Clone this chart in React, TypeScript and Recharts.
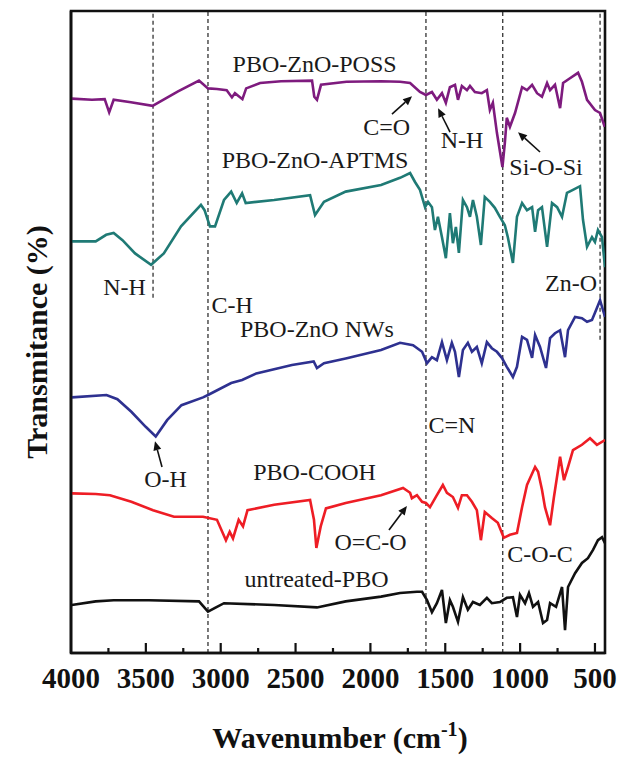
import { LineChart, Line, XAxis, YAxis, ReferenceLine, ReferenceDot, ReferenceArea } from 'recharts';

type Pt = [number, number];

// [wavenumber, transmittance offset (a.u.)]
const poss: Pt[] = [
  [3995, 92.4], [3860, 92.2], [3775, 92.3], [3745, 90.1], [3715, 92.2], [3600, 91.8], [3455, 91.2],
  [3285, 93.6], [3145, 95.4], [3085, 94.1], [3025, 94.0], [2960, 93.8], [2925, 92.6], [2905, 93.3],
  [2855, 92.3], [2830, 94.1], [2737, 95.0], [2597, 95.3], [2390, 95.4], [2375, 92.7], [2357, 92.2],
  [2330, 94.7], [2160, 95.2], [1929, 95.3], [1802, 95.2], [1735, 95.0], [1669, 93.5], [1629, 93.0],
  [1589, 93.5], [1556, 92.2], [1522, 93.3], [1496, 91.7], [1469, 94.3], [1435, 94.7], [1415, 92.2],
  [1389, 94.5], [1355, 93.8], [1335, 94.5], [1302, 93.5], [1256, 93.3], [1222, 93.8], [1202, 90.5],
  [1182, 91.7], [1155, 86.7], [1118, 81.0], [1102, 85.0], [1089, 89.2], [1068, 87.7], [1034, 90.0],
  [987, 94.3], [954, 93.8], [920, 94.7], [887, 93.3], [854, 92.7], [820, 95.0], [800, 93.8],
  [767, 94.7], [733, 90.8], [713, 95.0], [667, 95.8], [613, 96.7], [587, 95.2], [553, 92.2],
  [500, 90.5], [466, 90.0], [435, 87.7],
];

const aptms: Pt[] = [
  [3995, 68.6], [3835, 68.6], [3765, 69.7], [3715, 70.0], [3656, 68.8], [3572, 66.6], [3465, 64.7],
  [3380, 66.6], [3265, 71.1], [3132, 74.7], [3108, 73.8], [3072, 71.1], [3038, 71.1], [2978, 75.5],
  [2930, 76.9], [2893, 75.0], [2857, 76.6], [2833, 75.0], [2643, 75.5], [2403, 76.3], [2370, 73.0],
  [2310, 75.2], [2165, 76.9], [1929, 78.0], [1802, 79.2], [1735, 80.0], [1702, 78.5], [1669, 77.2],
  [1635, 74.3], [1615, 75.2], [1589, 74.3], [1569, 70.5], [1549, 72.7], [1522, 69.3], [1496, 65.8],
  [1469, 73.3], [1449, 68.3], [1429, 71.0], [1409, 66.7], [1382, 75.5], [1355, 74.3], [1335, 72.7],
  [1315, 75.5], [1289, 72.7], [1262, 68.0], [1236, 76.0], [1202, 75.2], [1169, 74.2], [1135, 72.7],
  [1102, 71.3], [1082, 69.3], [1048, 65.0], [1021, 72.7], [987, 75.0], [954, 73.8], [920, 74.3],
  [900, 70.2], [880, 73.8], [854, 74.3], [820, 67.7], [787, 75.0], [753, 74.3], [720, 72.7],
  [687, 76.7], [647, 77.2], [600, 77.8], [580, 72.2], [553, 67.7], [520, 69.3], [500, 68.5],
  [480, 70.5], [453, 69.3], [433, 64.3],
];

const nws: Pt[] = [
  [3995, 42.6], [3763, 43.0], [3690, 42.3], [3597, 40.2], [3501, 37.7], [3434, 36.1], [3358, 38.8],
  [3262, 41.3], [3118, 42.6], [3085, 43.0], [2930, 45.0], [2857, 45.5], [2762, 46.6], [2524, 48.0],
  [2379, 48.6], [2357, 47.5], [2310, 48.3], [2165, 49.1], [1929, 50.5], [1802, 51.7], [1715, 51.3],
  [1655, 50.2], [1622, 48.3], [1589, 49.3], [1556, 48.8], [1522, 51.8], [1489, 48.8], [1456, 51.7],
  [1435, 50.2], [1409, 46.0], [1382, 50.5], [1349, 51.7], [1322, 50.2], [1289, 51.0], [1256, 48.3],
  [1222, 51.8], [1189, 50.8], [1155, 50.2], [1122, 49.2], [1089, 47.7], [1048, 46.0], [1021, 47.7],
  [987, 52.7], [954, 52.2], [920, 49.2], [900, 53.0], [867, 51.0], [827, 47.5], [800, 52.5],
  [767, 53.3], [733, 53.8], [700, 49.3], [680, 53.8], [633, 56.0], [587, 55.8], [553, 55.2],
  [520, 55.5], [500, 56.7], [466, 58.8], [433, 56.0],
];

const cooh: Pt[] = [
  [3995, 26.6], [3835, 26.5], [3740, 26.3], [3597, 25.2], [3452, 23.8], [3312, 22.7], [3118, 22.7],
  [3025, 22.2], [2965, 18.8], [2940, 20.2], [2918, 19.1], [2880, 22.2], [2851, 21.1], [2821, 23.8],
  [2643, 24.7], [2403, 25.5], [2377, 22.2], [2361, 17.5], [2332, 21.1], [2297, 24.1], [2165, 25.0],
  [1929, 26.3], [1782, 27.5], [1735, 26.7], [1723, 25.8], [1689, 26.3], [1655, 25.2], [1629, 25.0],
  [1602, 24.3], [1556, 26.3], [1516, 28.0], [1489, 26.7], [1449, 26.0], [1415, 24.2], [1389, 26.3],
  [1355, 26.3], [1322, 25.2], [1289, 23.8], [1262, 18.8], [1236, 23.5], [1189, 22.5], [1149, 21.7],
  [1109, 19.2], [1068, 19.7], [1021, 20.0], [987, 24.3], [954, 28.0], [900, 31.0], [880, 30.2],
  [854, 27.2], [834, 24.3], [800, 21.3], [774, 26.0], [733, 32.7], [707, 28.8], [680, 31.0],
  [647, 33.8], [587, 34.7], [533, 35.8], [487, 34.7], [433, 35.5],
];

const untreated: Pt[] = [
  [3995, 8.0], [3835, 8.6], [3715, 8.8], [3479, 8.8], [3145, 8.6], [3085, 6.9], [3025, 7.7],
  [2978, 8.3], [2643, 8.0], [2357, 7.6], [2165, 8.6], [1929, 9.4], [1802, 10.0], [1689, 10.2],
  [1655, 10.2], [1622, 8.8], [1589, 6.8], [1556, 8.3], [1522, 10.5], [1496, 5.0], [1469, 8.8],
  [1449, 7.7], [1415, 5.2], [1382, 9.3], [1349, 7.2], [1315, 8.5], [1269, 8.0], [1222, 9.2],
  [1189, 8.3], [1135, 8.5], [1089, 9.2], [1048, 9.3], [1021, 6.0], [1001, 9.7], [967, 8.3],
  [941, 10.0], [914, 7.7], [880, 8.5], [847, 5.0], [820, 5.5], [800, 8.3], [760, 7.7],
  [720, 11.0], [700, 3.8], [680, 11.0], [633, 13.3], [587, 15.0], [547, 15.8], [513, 17.2],
  [480, 18.8], [453, 19.3], [433, 18.3],
];

const series = [
  { key: 'poss', color: '#7e1b7e', pts: poss },
  { key: 'aptms', color: '#1f7a75', pts: aptms },
  { key: 'nws', color: '#2e3190', pts: nws },
  { key: 'cooh', color: '#ee1d25', pts: cooh },
  { key: 'untreated', color: '#111111', pts: untreated },
];

const axisTicks = [4000, 3750, 3500, 3250, 3000, 2750, 2500, 2250, 2000, 1750, 1500, 1250, 1000, 750, 500];

// dashed guide lines: wavenumber and lower end
const guides: Pt[] = [[3452, 59.2], [3085, 0], [1629, 0], [1116, 0], [466, 52.2]];

const labels: { text: string; wn: number; t: number }[] = [
  { text: 'PBO-ZnO-POSS', wn: 2373, t: 96.8 },
  { text: 'C=O', wn: 1892, t: 86.3 },
  { text: 'N-H', wn: 1388, t: 84.2 },
  { text: 'Si-O-Si', wn: 827, t: 79.7 },
  { text: 'PBO-ZnO-APTMS', wn: 2370, t: 80.8 },
  { text: 'N-H', wn: 3642, t: 59.7 },
  { text: 'Zn-O', wn: 660, t: 60.3 },
  { text: 'C-H', wn: 2924, t: 56.7 },
  { text: 'PBO-ZnO NWs', wn: 2357, t: 52.7 },
  { text: 'C=N', wn: 1455, t: 36.7 },
  { text: 'O-H', wn: 3369, t: 27.7 },
  { text: 'PBO-COOH', wn: 2373, t: 28.8 },
  { text: 'O=C-O', wn: 1999, t: 17.2 },
  { text: 'C-O-C', wn: 867, t: 15.2 },
  { text: 'untreated-PBO', wn: 2360, t: 11.0 },
];

const arrows: [Pt, Pt][] = [
  [[1856, 89.8], [1722, 92.8]],
  [[1468, 86.8], [1548, 90.8]],
  [[867, 83.5], [1014, 86.8]],
  [[3392, 31.0], [3439, 35.3]],
  [[1876, 20.5], [1756, 24.5]],
];

const serif = 'Liberation Serif, Times New Roman, serif';

function Tick(props: any) {
  const { x, y, payload } = props;
  const v = payload.value;
  const major = v % 500 === 0;
  return (
    <g>
      {v < 4000 && <line x1={x} y1={y} x2={x} y2={y - (major ? 10 : 5)} stroke="#111" strokeWidth={2.2} />}
      {major && (
        <text x={x} y={y + 35} textAnchor="middle" fontFamily={serif} fontWeight="bold" fontSize={29} fill="#111">
          {v}
        </text>
      )}
    </g>
  );
}

function Arrow(props: any) {
  const { x1, y1, x2, y2 } = props;
  const a = Math.atan2(y2 - y1, x2 - x1);
  const bx = x2 - 9 * Math.cos(a);
  const by = y2 - 9 * Math.sin(a);
  const s = Math.sin(a), c = Math.cos(a);
  const pts = `${x2},${y2} ${bx - 4 * s},${by + 4 * c} ${bx + 4 * s},${by - 4 * c}`;
  return (
    <g>
      <line x1={x1} y1={y1} x2={bx} y2={by} stroke="#111" strokeWidth={1.6} />
      <polygon points={pts} fill="#111" />
    </g>
  );
}

export default function App() {
  return (
    <div style={{ position: 'absolute', left: 0, top: 0, background: '#fff' }}>
      <LineChart width={619} height={758} margin={{ top: 11, right: 14, bottom: 0, left: 0 }}>
        <XAxis
          dataKey="wn"
          type="number"
          domain={[433, 4000]}
          reversed
          allowDataOverflow
          ticks={axisTicks}
          interval={0}
          tick={<Tick />}
          tickLine={false}
          axisLine={{ stroke: '#111', strokeWidth: 2.6 }}
          tickSize={0}
          tickMargin={0}
          height={105}
          label={{
            content: ({ viewBox }: any) => (
              <text x={viewBox.x + viewBox.width / 2 + 2} y={viewBox.y + 95} textAnchor="middle"
                fontFamily={serif} fontWeight="bold" fontSize={30} fill="#111">
                Wavenumber (cm<tspan dy={-12} fontSize={20}>-1</tspan><tspan dy={12}>)</tspan>
              </text>
            ),
          }}
        />
        <YAxis
          type="number"
          domain={[0, 107]}
          allowDataOverflow
          width={71}
          tick={false}
          tickLine={false}
          axisLine={{ stroke: '#111', strokeWidth: 2.6 }}
          label={{
            content: ({ viewBox }: any) => {
              const cx = 47;
              const cy = viewBox.y + viewBox.height / 2 + 10;
              return (
                <text x={cx} y={cy} transform={`rotate(-90 ${cx} ${cy})`} textAnchor="middle"
                  fontFamily={serif} fontWeight="bold" fontSize={30} fill="#111">
                  Transmitance (%)
                </text>
              );
            },
          }}
        />
        {guides.map(([wn, lo]) => (
          <ReferenceLine key={wn} segment={[{ x: wn, y: lo }, { x: wn, y: 107 }]} stroke="#222" strokeWidth={1.2} strokeDasharray="4 3" />
        ))}
        {series.map((s) => (
          <Line
            key={s.key}
            data={s.pts.map(([wn, t]) => ({ wn, t }))}
            dataKey="t"
            type="linear"
            stroke={s.color}
            strokeWidth={2.6}
            dot={false}
            isAnimationActive={false}
          />
        ))}
        {arrows.map(([a, b], i) => (
          <ReferenceLine key={'ar' + i} segment={[{ x: a[0], y: a[1] }, { x: b[0], y: b[1] }]} shape={(p: any) => <Arrow {...p} />} />
        ))}
        {labels.map((l, i) => (
          <ReferenceDot
            key={'lb' + i}
            x={l.wn}
            y={l.t}
            r={0}
            shape={(p: any) => (
              <text x={p.cx} y={p.cy} textAnchor="middle" fontFamily={serif} fontSize={24} fill="#1a1a1a">
                {l.text}
              </text>
            )}
          />
        ))}
        <ReferenceArea x1={433} x2={4000} y1={0} y2={107} fill="none" fillOpacity={0} stroke="#111" strokeWidth={2.6} />
      </LineChart>
    </div>
  );
}
